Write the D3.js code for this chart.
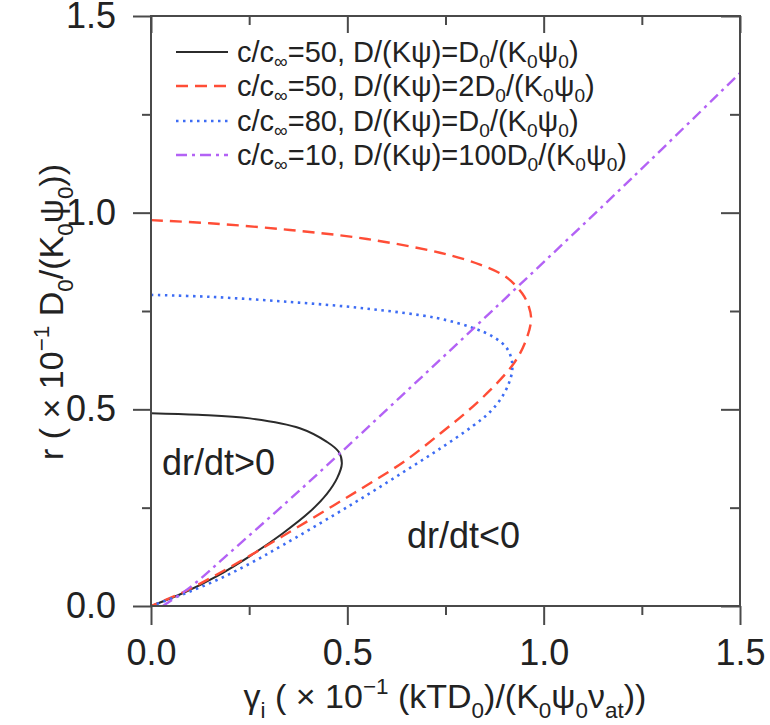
<!DOCTYPE html>
<html>
<head>
<meta charset="utf-8">
<script src="https://cdn.jsdelivr.net/npm/d3@7"></script>
<style>
  html, body { margin: 0; padding: 0; background: #fff; }
  svg { display: block; font-family: "Liberation Sans", Arial, sans-serif; }
</style>
</head>
<body>
<svg id="chart" width="770" height="725"></svg>
<script>
// Stability boundaries: each curve is [gamma_i, r] pairs.
const curveC50 = [
  [0, 0.490], [0.120, 0.486], [0.252, 0.477], [0.379, 0.452], [0.447, 0.418],
  [0.478, 0.392], [0.486, 0.362], [0.474, 0.325], [0.448, 0.285], [0.405, 0.240],
  [0.336, 0.185], [0.252, 0.127], [0.168, 0.076], [0.082, 0.033], [0, 0]
];
const curveC50D2 = [
  [0, 0.981], [0.150, 0.973], [0.354, 0.956], [0.550, 0.933], [0.736, 0.898],
  [0.838, 0.868], [0.906, 0.835], [0.945, 0.795], [0.962, 0.762], [0.968, 0.727],
  [0.952, 0.668], [0.922, 0.614], [0.863, 0.548], [0.800, 0.490], [0.736, 0.438],
  [0.650, 0.371], [0.558, 0.312], [0.464, 0.255], [0.336, 0.178], [0.252, 0.128],
  [0.168, 0.080], [0.082, 0.035], [0, 0]
];
const curveC80 = [
  [0, 0.791], [0.150, 0.786], [0.354, 0.773], [0.550, 0.756], [0.728, 0.732],
  [0.820, 0.707], [0.872, 0.684], [0.905, 0.657], [0.918, 0.628], [0.920, 0.600],
  [0.912, 0.568], [0.893, 0.530], [0.862, 0.492], [0.820, 0.458], [0.736, 0.400],
  [0.650, 0.345], [0.558, 0.287], [0.464, 0.230], [0.336, 0.155], [0.252, 0.108],
  [0.168, 0.066], [0.082, 0.030], [0, 0]
];
const curveC10 = [
  [0.030, 0], [0.100, 0.048], [0.200, 0.135], [0.350, 0.268], [0.481, 0.388],
  [0.700, 0.592], [0.932, 0.810], [1.227, 1.090], [1.500, 1.355]
];

const majorTicks = [0, 0.5, 1.0, 1.5];
const minorTicks = [0.25, 0.75, 1.25];

// Rich-text labels: [text, "n" | "sub" | "sup"]
const legendLabels = [
  [["c/c", "n"], ["\u221E", "sub"], ["=50, D/(K\u03C8)=D", "n"], ["0", "sub"], ["/(K", "n"], ["0", "sub"], ["\u03C8", "n"], ["0", "sub"], [")", "n"]],
  [["c/c", "n"], ["\u221E", "sub"], ["=50, D/(K\u03C8)=2D", "n"], ["0", "sub"], ["/(K", "n"], ["0", "sub"], ["\u03C8", "n"], ["0", "sub"], [")", "n"]],
  [["c/c", "n"], ["\u221E", "sub"], ["=80, D/(K\u03C8)=D", "n"], ["0", "sub"], ["/(K", "n"], ["0", "sub"], ["\u03C8", "n"], ["0", "sub"], [")", "n"]],
  [["c/c", "n"], ["\u221E", "sub"], ["=10, D/(K\u03C8)=100D", "n"], ["0", "sub"], ["/(K", "n"], ["0", "sub"], ["\u03C8", "n"], ["0", "sub"], [")", "n"]]
];
const xTitle = [["\u03B3", "n"], ["i", "sub"], [" ( \u00D7 10", "n"], ["\u22121", "sup"], [" (kTD", "n"], ["0", "sub"], [")/(K", "n"], ["0", "sub"], ["\u03C8", "n"], ["0", "sub"], ["\u03BD", "n"], ["at", "sub"], ["))", "n"]];
const yTitle = [["r ( \u00D7 10", "n"], ["\u22121", "sup"], [" D", "n"], ["0", "sub"], ["/(K", "n"], ["0", "sub"], ["\u03C8", "n"], ["0", "sub"], ["))", "n"]];
const regionLabels = [
  { text: "dr/dt>0", at: [0.028, 0.333] },
  { text: "dr/dt<0", at: [0.652, 0.148] }
];

const seriesStyles = [
  { data: curveC50,   color: "#2b2b2b", width: 2.0, dash: null },
  { data: curveC50D2, color: "#ff4d36", width: 2.4, dash: "12,7" },
  { data: curveC80,   color: "#3d6cf4", width: 2.6, dash: "2.5,4.5" },
  { data: curveC10,   color: "#b362f5", width: 2.4, dash: "11,5,3,5" }
];

const plot = { left: 151, right: 740, top: 16, bottom: 606 };
const x = d3.scaleLinear().domain([0, 1.5]).range([plot.left, plot.right]);
const y = d3.scaleLinear().domain([0, 1.5]).range([plot.bottom, plot.top]);

const svg = d3.select("#chart");
const axisColor = "#4a4a4a";
const tickFont = 36;

function richText(sel, segs, size, subShift) {
  let shift = 0;
  segs.forEach(([t, mode]) => {
    let target = 0, fs = size;
    if (mode === "sub") { target = subShift * size; fs = 0.66 * size; }
    if (mode === "sup") { target = -0.42 * size; fs = 0.66 * size; }
    sel.append("tspan")
      .attr("dy", target - shift)
      .attr("font-size", fs)
      .text(t);
    shift = target;
  });
}

// Curves
const line = d3.line()
  .x(d => x(d[0]))
  .y(d => y(d[1]))
  .curve(d3.curveCatmullRom.alpha(0.5));

svg.append("clipPath").attr("id", "plotclip")
  .append("rect")
  .attr("x", plot.left).attr("y", plot.top)
  .attr("width", plot.right - plot.left).attr("height", plot.bottom - plot.top);

const curves = svg.append("g").attr("clip-path", "url(#plotclip)");
seriesStyles.forEach(s => {
  curves.append("path")
    .datum(s.data)
    .attr("d", line)
    .attr("fill", "none")
    .attr("stroke", s.color)
    .attr("stroke-width", s.width)
    .attr("stroke-dasharray", s.dash);
});

// Axes: labelled outward ticks on bottom/left, inward mirror ticks on top/right
function styleAxis(g) {
  g.select(".domain").remove();
  g.selectAll("line").attr("stroke", axisColor).attr("stroke-width", 2);
  g.selectAll("text").attr("fill", "#222").attr("font-size", tickFont)
    .attr("font-family", "Liberation Sans, Arial, sans-serif");
}
const fmt = d3.format(".1f");

svg.append("g").attr("transform", `translate(0,${plot.bottom})`)
  .call(d3.axisBottom(x).tickValues(majorTicks).tickFormat(fmt).tickSize(19).tickPadding(14))
  .call(styleAxis);
svg.append("g").attr("transform", `translate(0,${plot.bottom})`)
  .call(d3.axisBottom(x).tickValues(minorTicks).tickFormat("").tickSize(9))
  .call(styleAxis);
svg.append("g").attr("transform", `translate(${plot.left},0)`)
  .call(d3.axisLeft(y).tickValues(majorTicks).tickFormat(fmt).tickSize(18).tickPadding(17))
  .call(styleAxis);
svg.append("g").attr("transform", `translate(${plot.left},0)`)
  .call(d3.axisLeft(y).tickValues(minorTicks).tickFormat("").tickSize(9))
  .call(styleAxis);
svg.append("g").attr("transform", `translate(0,${plot.top})`)
  .call(d3.axisTop(x).tickValues(majorTicks).tickFormat("").tickSize(-17))
  .call(styleAxis);
svg.append("g").attr("transform", `translate(0,${plot.top})`)
  .call(d3.axisTop(x).tickValues(minorTicks).tickFormat("").tickSize(-9))
  .call(styleAxis);
svg.append("g").attr("transform", `translate(${plot.right},0)`)
  .call(d3.axisRight(y).tickValues(majorTicks).tickFormat("").tickSize(-19))
  .call(styleAxis);
svg.append("g").attr("transform", `translate(${plot.right},0)`)
  .call(d3.axisRight(y).tickValues(minorTicks).tickFormat("").tickSize(-10))
  .call(styleAxis);

// Frame
svg.append("rect")
  .attr("x", plot.left).attr("y", plot.top)
  .attr("width", plot.right - plot.left).attr("height", plot.bottom - plot.top)
  .attr("fill", "none").attr("stroke", axisColor).attr("stroke-width", 2);

// Axis titles
const xt = svg.append("text")
  .attr("x", 445).attr("y", 708)
  .attr("text-anchor", "middle").attr("fill", "#222").attr("font-size", 34);
richText(xt, xTitle, 34, 0.28);

const yt = svg.append("text")
  .attr("transform", "translate(63,312) rotate(-90)")
  .attr("text-anchor", "middle").attr("fill", "#222").attr("font-size", 34);
richText(yt, yTitle, 34, 0.28);

// Region labels
svg.selectAll(".region").data(regionLabels).enter().append("text")
  .attr("class", "region")
  .attr("x", d => x(d.at[0])).attr("y", d => y(d.at[1]))
  .attr("fill", "#222").attr("font-size", 36)
  .text(d => d.text);

// Legend
const legendRowY = [52, 86, 121, 155];
const lg = svg.append("g");
seriesStyles.forEach((s, i) => {
  lg.append("line")
    .attr("x1", 176).attr("x2", 228)
    .attr("y1", legendRowY[i]).attr("y2", legendRowY[i])
    .attr("stroke", s.color).attr("stroke-width", s.width)
    .attr("stroke-dasharray", s.dash);
  const t = lg.append("text")
    .attr("x", 237).attr("y", legendRowY[i] + 10)
    .attr("fill", "#222").attr("font-size", 29);
  richText(t, legendLabels[i], 29, 0.22);
});
</script>
</body>
</html>
